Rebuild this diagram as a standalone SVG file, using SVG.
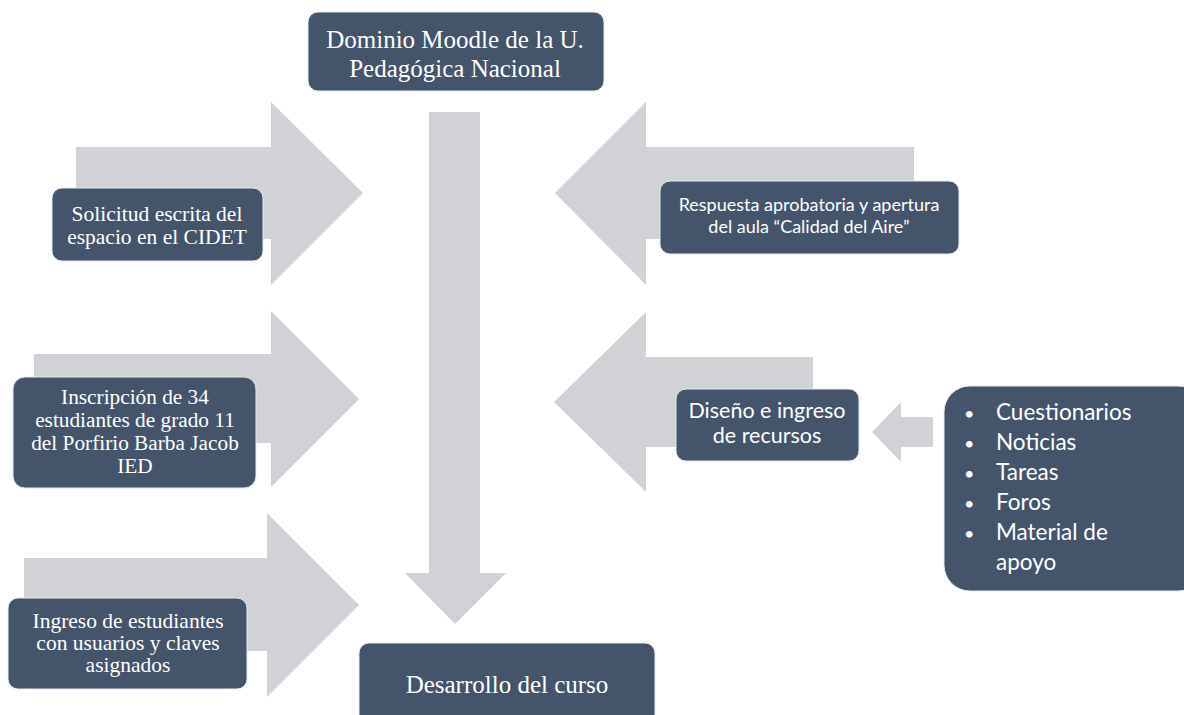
<svg xmlns="http://www.w3.org/2000/svg" width="1184" height="715" viewBox="0 0 1184 715">
<style>
.arrow{fill:#D0D2D6}
.box{fill:#44546A;stroke:#E6E8EC;stroke-width:1}
.serif{font-family:"Liberation Serif","Times New Roman",serif;fill:#FFFFFF;text-anchor:middle}
.sans{font-family:Lato,"Open Sans",sans-serif;fill:#FFFFFF}
.mid{text-anchor:middle}
</style>
<rect width="1184" height="715" fill="#FFFFFF"/>
<g id="connectors">
<polygon class="arrow" points="76,147 271,147 271,102 363,193 271,285 271,239 76,239"/>
<polygon class="arrow" points="34,354 271,354 271,311 359,399 271,487 271,443 34,443"/>
<polygon class="arrow" points="24,558 267,558 267,513 359,605 267,697 267,651 24,651"/>
<polygon class="arrow" points="914,147 646,147 646,102 555,193 646,285 646,239 914,239"/>
<polygon class="arrow" points="813,357 646,357 646,312 554,402 646,492 646,447 813,447"/>
<polygon class="arrow" points="933,417 901,417 901,402 872,432 901,462 901,447 933,447"/>
<polygon class="arrow" points="429,112 480,112 480,573 506,573 455,624 405,573 429,573"/>
</g>
<g id="node-dominio">
<rect class="box" x="308" y="12" width="296" height="79" rx="10"/>
<text class="serif" font-size="25" x="455" y="48">Dominio Moodle de la U.</text>
<text class="serif" font-size="25" x="455" y="77">Pedagógica Nacional</text>
</g>
<g id="node-solicitud">
<rect class="box" x="52" y="188" width="211" height="73" rx="10"/>
<text class="serif" font-size="21.5" x="157" y="221">Solicitud escrita del</text>
<text class="serif" font-size="21.5" x="157" y="244">espacio en el CIDET</text>
</g>
<g id="node-inscripcion">
<rect class="box" x="13" y="377" width="243" height="111" rx="12"/>
<text class="serif" font-size="21.3" x="135" y="404">Inscripción de 34</text>
<text class="serif" font-size="21.3" x="135" y="427">estudiantes de grado 11</text>
<text class="serif" font-size="21.3" x="135" y="450">del Porfirio Barba Jacob</text>
<text class="serif" font-size="21.3" x="135" y="473">IED</text>
</g>
<g id="node-ingreso">
<rect class="box" x="8" y="598" width="239" height="91" rx="10"/>
<text class="serif" font-size="21.5" x="128" y="628">Ingreso de estudiantes</text>
<text class="serif" font-size="21.5" x="128" y="650">con usuarios y claves</text>
<text class="serif" font-size="21.5" x="128" y="672">asignados</text>
</g>
<g id="node-desarrollo">
<rect class="box" x="359" y="643" width="296" height="90" rx="10"/>
<text class="serif" font-size="25" x="507" y="693">Desarrollo del curso</text>
</g>
<g id="node-respuesta">
<rect class="box" x="660" y="181" width="299" height="73" rx="10"/>
<text class="sans mid" font-size="18" x="809" y="211">Respuesta aprobatoria y apertura</text>
<text class="sans mid" font-size="18" x="809" y="233">del aula “Calidad del Aire”</text>
</g>
<g id="node-diseno">
<rect class="box" x="676" y="389" width="183" height="72" rx="10"/>
<text class="sans mid" font-size="21.5" x="767" y="418">Diseño e ingreso</text>
<text class="sans mid" font-size="21.5" x="767" y="443">de recursos</text>
</g>
<g id="node-recursos">
<rect class="box" x="944" y="386" width="260" height="205" rx="26"/>
<g class="sans" font-size="22.5">
<text x="964" y="420" font-size="18">•</text><text x="996" y="420">Cuestionarios</text>
<text x="964" y="450" font-size="18">•</text><text x="996" y="450">Noticias</text>
<text x="964" y="480" font-size="18">•</text><text x="996" y="480">Tareas</text>
<text x="964" y="510" font-size="18">•</text><text x="996" y="510">Foros</text>
<text x="964" y="540" font-size="18">•</text><text x="996" y="540">Material de</text>
<text x="996" y="570">apoyo</text>
</g>
</g>
</svg>
